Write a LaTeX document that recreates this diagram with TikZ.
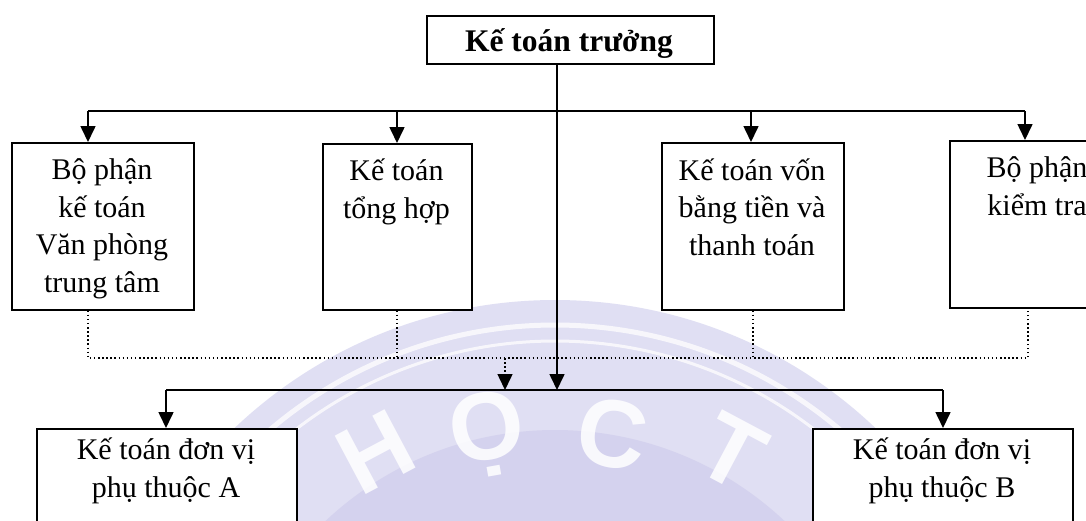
\documentclass[tikz,border=0pt]{standalone}
\usepackage{fontspec}
\setmainfont{Liberation Serif}
\newfontfamily\marksans{Liberation Sans}
\usetikzlibrary{arrows.meta}

\definecolor{lav}{RGB}{224,223,243}
\definecolor{lavdeep}{RGB}{212,210,238}

\tikzset{
  box/.style={draw=black, line width=1.6pt, fill=white, rectangle, inner sep=0pt},
  lbl/.style={inner sep=0pt, align=center, font=\fontsize{30}{37.5}\selectfont},
  conn/.style={line width=1.6pt},
  arr/.style={line width=1.6pt, -{Triangle[length=16pt,width=15pt]}},
  dotline/.style={line width=1.5pt, dash pattern=on 1.5pt off 2.6pt},
  dotarr/.style={dotline, -{Triangle[length=16pt,width=15pt]}},
  wmark/.style={text=white, text opacity=0.85, font=\marksans\bfseries\fontsize{96}{96}\selectfont, inner sep=0pt}
}

\begin{document}
\begin{tikzpicture}[x=1pt,y=-1pt]
\useasboundingbox (0,0) rectangle (1086,520);
\clip (0,0) rectangle (1086,520);
\fill[white] (0,0) rectangle (1086,520);

% faint round seal in the background
\fill[lav] (555,765) circle[radius=465];
\fill[lavdeep] (555,765) circle[radius=335];
\draw[white, line width=5pt, opacity=0.75] (555,765) circle[radius=440];
\draw[white, line width=3pt, opacity=0.75] (555,765) circle[radius=424];
\node[wmark, rotate=28]  (wH) at (376,452) {H};
\node[wmark, rotate=10]  (wO) at (488,434) {Ọ};
\node[wmark, rotate=-10] (wC) at (612,434) {C};
\node[wmark, rotate=-28] (wT) at (732,452) {T};

% head of the department
\node[box, minimum width=287pt, minimum height=48pt, anchor=north west] (kt) at (426,15) {};
\node[lbl, anchor=base, font=\bfseries\fontsize{31.5}{37.5}\selectfont] (ktl) at (569,51) {Kế toán trưởng};

% first row of sections (label anchors sit on the last baseline)
\node[box, minimum width=182pt, minimum height=167pt, anchor=north west] (b1) at (11,142) {};
\node[lbl, anchor=base] (b1l) at (102,292) {Bộ phận\\kế toán\\Văn phòng\\trung tâm};

\node[box, minimum width=149pt, minimum height=166pt, anchor=north west] (b2) at (322,143) {};
\node[lbl, anchor=base] (b2l) at (396.5,218) {Kế toán\\tổng hợp};

\node[box, minimum width=182pt, minimum height=167pt, anchor=north west] (b3) at (661,142) {};
\node[lbl, anchor=base] (b3l) at (752,255) {Kế toán vốn\\bằng tiền và\\thanh toán};

\node[box, minimum width=182pt, minimum height=167pt, anchor=north west] (b4) at (949,140) {};
\node[lbl, anchor=base] (b4l) at (1037,215) {Bộ phận\\kiểm tra};

% dependent units
\node[box, minimum width=260pt, minimum height=120pt, anchor=north west] (bA) at (36,428) {};
\node[lbl, anchor=base] (bAl) at (166,497) {Kế toán đơn vị\\phụ thuộc A};

\node[box, minimum width=260pt, minimum height=120pt, anchor=north west] (bB) at (812,428) {};
\node[lbl, anchor=base] (bBl) at (942,497) {Kế toán đơn vị\\phụ thuộc B};

% bus points
\coordinate (u1) at (88,111);
\coordinate (u2) at (397,111);
\coordinate (u3) at (751,111);
\coordinate (u4) at (1025,111);
\coordinate (stem) at (557,111);
\coordinate (lA) at (166,390);
\coordinate (lB) at (943,390);
\coordinate (p1) at (88,358);
\coordinate (p2) at (397,358);
\coordinate (p3) at (753,358);
\coordinate (p4) at (1028,358);
\coordinate (p0) at (505,358);

% solid lines of command
\draw[conn] (u1) -- (u4);
\draw[arr] (u1) -- (u1 |- b1.north);
\draw[arr] (u2) -- (u2 |- b2.north);
\draw[arr] (u3) -- (u3 |- b3.north);
\draw[arr] (u4) -- (u4 |- b4.north);
\draw[arr] (stem |- kt.south) -- (stem |- lA);
\draw[conn] (lA) -- (lB);
\draw[arr] (lA) -- (lA |- bA.north);
\draw[arr] (lB) -- (lB |- bB.north);

% dotted lines of guidance
\draw[dotline] (p1 |- b1.south) -- (p1) -- (p4) -- (p4 |- b4.south);
\draw[dotline] (p2 |- b2.south) -- (p2);
\draw[dotline] (p3 |- b3.south) -- (p3);
\draw[dotarr] (p0) -- (p0 |- lA);
\end{tikzpicture}
\end{document}
